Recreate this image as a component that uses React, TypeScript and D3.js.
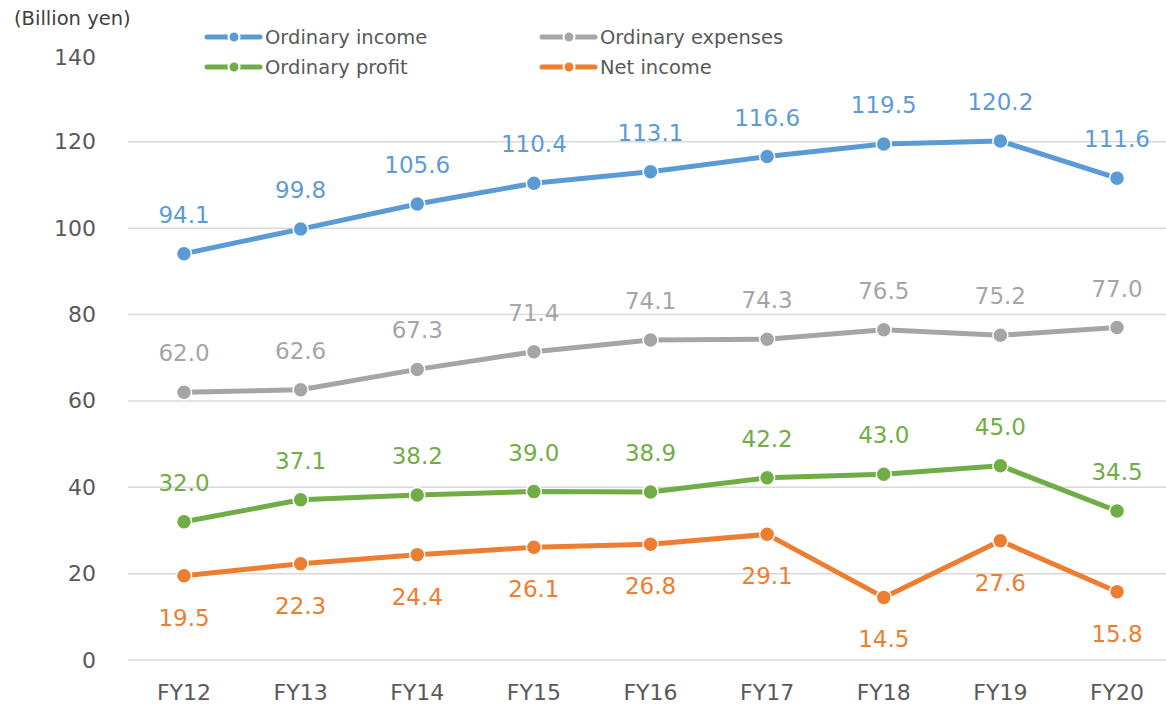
import React from "react";
import * as d3 from "d3";

const categories = ["FY12", "FY13", "FY14", "FY15", "FY16", "FY17", "FY18", "FY19", "FY20"];
const ordinaryIncome = [94.1, 99.8, 105.6, 110.4, 113.1, 116.6, 119.5, 120.2, 111.6];
const ordinaryExpenses = [62.0, 62.6, 67.3, 71.4, 74.1, 74.3, 76.5, 75.2, 77.0];
const ordinaryProfit = [32.0, 37.1, 38.2, 39.0, 38.9, 42.2, 43.0, 45.0, 34.5];
const netIncome = [19.5, 22.3, 24.4, 26.1, 26.8, 29.1, 14.5, 27.6, 15.8];
const yTicks = [0, 20, 40, 60, 80, 100, 120, 140];
const unitLabel = "(Billion yen)";

const seriesList = [
  { name: "Ordinary income", values: ordinaryIncome, color: "#5B9BD5", below: false },
  { name: "Ordinary expenses", values: ordinaryExpenses, color: "#A5A5A5", below: false },
  { name: "Ordinary profit", values: ordinaryProfit, color: "#70AD47", below: false },
  { name: "Net income", values: netIncome, color: "#ED7D31", below: true },
];

const W = 1166;
const H = 707;
const FONT = "'DejaVu Sans', Verdana, sans-serif";

export default function App() {
  const x = d3.scalePoint<string>().domain(categories).range([184, 1117]);
  const y = d3.scaleLinear().domain([0, 140]).range([660, 55.5]);
  const line = d3
    .line<number>()
    .x((_, i) => x(categories[i]) as number)
    .y((d) => y(d));

  const legendPos = [
    { lx: 205, ly: 37 },
    { lx: 540, ly: 37 },
    { lx: 205, ly: 67 },
    { lx: 540, ly: 67 },
  ];

  return (
    <svg
      width={W}
      height={H}
      style={{ position: "absolute", left: 0, top: 0, background: "#fff" }}
      fontFamily={FONT}
    >
      {yTicks
        .filter((t) => t < 140)
        .map((t) => (
          <line key={t} x1={128} x2={W} y1={y(t)} y2={y(t)} stroke="#D9D9D9" strokeWidth={1.5} />
        ))}
      {yTicks.map((t) => (
        <text
          key={"yl" + t}
          x={96}
          y={t === 140 ? 57 : y(t)}
          textAnchor="end"
          dominantBaseline="central"
          fontSize={22}
          fill="#595959"
        >
          {t}
        </text>
      ))}
      {categories.map((c) => (
        <text
          key={c}
          x={x(c) as number}
          y={692}
          textAnchor="middle"
          dominantBaseline="central"
          fontSize={22}
          fill="#595959"
        >
          {c}
        </text>
      ))}
      <text x={14} y={18} fontSize={19.5} fill="#404040" dominantBaseline="central">
        {unitLabel}
      </text>
      {seriesList.map((s) => (
        <g key={s.name}>
          <path
            d={line(s.values) as string}
            fill="none"
            stroke={s.color}
            strokeWidth={5}
            strokeLinejoin="round"
            strokeLinecap="round"
          />
          {s.values.map((v, i) => (
            <circle
              key={i}
              cx={x(categories[i]) as number}
              cy={y(v)}
              r={7.5}
              fill={s.color}
              stroke="#fff"
              strokeWidth={1.5}
            />
          ))}
          {s.values.map((v, i) => (
            <text
              key={"l" + i}
              x={x(categories[i]) as number}
              y={y(v) + (s.below ? 42 : -39)}
              textAnchor="middle"
              dominantBaseline="central"
              fontSize={23}
              fill={s.color}
            >
              {v.toFixed(1)}
            </text>
          ))}
        </g>
      ))}
      {seriesList.map((s, i) => {
        const { lx, ly } = legendPos[i];
        return (
          <g key={"lg" + s.name}>
            <line x1={lx + 2} x2={lx + 55} y1={ly} y2={ly} stroke={s.color} strokeWidth={5} strokeLinecap="round" />
            <circle cx={lx + 29} cy={ly} r={5.5} fill={s.color} stroke="#fff" strokeWidth={2} />
            <text x={lx + 60} y={ly} dominantBaseline="central" fontSize={19.5} fill="#595959">
              {s.name}
            </text>
          </g>
        );
      })}
    </svg>
  );
}
